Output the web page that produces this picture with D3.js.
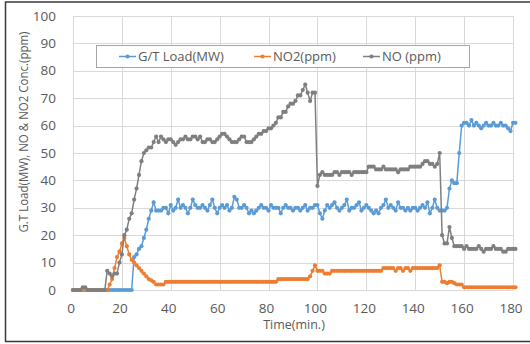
<!DOCTYPE html>
<html>
<head>
<meta charset="utf-8">
<script src="https://cdn.jsdelivr.net/npm/d3@7"></script>
<style>
  body { margin: 0; background: #fff; }
  text { font-family: "Open Sans", sans-serif; fill: #595959; }
</style>
</head>
<body>
<svg id="svg1" width="530" height="344"></svg>
<script>
  // minutes, one reading per minute
  var minutes = [
    0, 1, 2, 3, 4, 5, 6, 7, 8, 9, 10, 11, 12, 13, 14, 15, 16, 17, 18, 19,
    20, 21, 22, 23, 24, 25, 26, 27, 28, 29, 30, 31, 32, 33, 34, 35, 36, 37, 38, 39,
    40, 41, 42, 43, 44, 45, 46, 47, 48, 49, 50, 51, 52, 53, 54, 55, 56, 57, 58, 59,
    60, 61, 62, 63, 64, 65, 66, 67, 68, 69, 70, 71, 72, 73, 74, 75, 76, 77, 78, 79,
    80, 81, 82, 83, 84, 85, 86, 87, 88, 89, 90, 91, 92, 93, 94, 95, 96, 97, 98, 99,
    100, 101, 102, 103, 104, 105, 106, 107, 108, 109, 110, 111, 112, 113, 114, 115, 116, 117, 118, 119,
    120, 121, 122, 123, 124, 125, 126, 127, 128, 129, 130, 131, 132, 133, 134, 135, 136, 137, 138, 139,
    140, 141, 142, 143, 144, 145, 146, 147, 148, 149, 150, 151, 152, 153, 154, 155, 156, 157, 158, 159,
    160, 161, 162, 163, 164, 165, 166, 167, 168, 169, 170, 171, 172, 173, 174, 175, 176, 177, 178, 179,
    180, 181
  ];

  var gtLoad = [
    0, 0, 0, 0, 0, 0, 0, 0, 0, 0,
    0, 0, 0, 0, 0, 0, 0, 0, 0, 0,
    0, 0, 0, 0, 0, 12, 13, 15, 16, 19,
    22, 26, 29, 32, 29, 29, 29, 30, 30, 28,
    31, 29, 30, 33, 30, 31, 30, 28, 30, 33,
    31, 30, 30, 31, 30, 29, 31, 33, 30, 28,
    30, 31, 30, 31, 29, 30, 34, 33, 30, 30,
    31, 30, 28, 29, 28, 29, 30, 31, 30, 30,
    29, 31, 30, 30, 30, 28, 30, 31, 30, 30,
    29, 30, 30, 29, 30, 31, 29, 30, 30, 31,
    31, 28, 26, 29, 31, 30, 31, 32, 30, 29,
    30, 31, 33, 29, 30, 30, 31, 32, 29, 30,
    31, 30, 29, 28, 29, 28, 30, 31, 33, 30,
    31, 30, 29, 32, 30, 30, 29, 30, 29, 30,
    30, 29, 30, 31, 30, 32, 28, 30, 33, 30,
    29, 29, 29, 30, 37, 40, 39, 39, 50, 60,
    61, 61, 60, 62, 60, 61, 60, 59, 60, 61,
    60, 60, 61, 60, 60, 61, 60, 60, 59, 58, 61, 61
  ];

  var no2 = [
    0, 0, 0, 0, 0, 0, 0, 0, 0, 0,
    0, 0, 0, 0, 0, 2, 4, 8, 12, 14,
    17, 19, 16, 13, 11, 10, 9, 8, 7, 6,
    5, 4, 3.5, 3, 2, 2, 2, 2, 3, 3,
    3, 3, 3, 3, 3, 3, 3, 3, 3, 3,
    3, 3, 3, 3, 3, 3, 3, 3, 3, 3,
    3, 3, 3, 3, 3, 3, 3, 3, 3, 3,
    3, 3, 3, 3, 3, 3, 3, 3, 3, 3,
    3, 3, 3, 3, 4, 4, 4, 4, 4, 4,
    4, 4, 4, 4, 4, 4, 4, 5, 7, 9,
    7, 7, 7, 6, 6, 6, 7, 7, 7, 7,
    7, 7, 7, 7, 7, 7, 7, 7, 7, 7,
    7, 7, 7, 7, 7, 7, 7, 8, 8, 8,
    8, 8, 7, 8, 8, 7, 8, 8, 7, 8,
    8, 8, 8, 8, 8, 8, 8, 8, 8, 8,
    9, 3, 3, 2.5, 3, 3, 2.5, 2, 2, 2,
    1, 1, 1, 1, 1, 1, 1, 1, 1, 1,
    1, 1, 1, 1, 1, 1, 1, 1, 1, 1, 1, 1
  ];

  var no = [
    0, 0, 0, 0, 1, 1, 0, 0, 0, 0,
    0, 0, 0, 0, 7, 6, 5, 6, 6, 10,
    13, 20, 22, 26, 28, 33, 37, 42, 47, 50,
    51, 52, 52, 54, 56, 54, 56, 55, 54, 55,
    55, 54, 53, 54, 55, 55, 56, 55, 55, 56,
    56, 55, 56, 54, 54, 55, 55, 54, 54, 55,
    56, 57, 57, 56, 55, 54, 54, 54, 55, 56,
    56, 54, 54, 54, 55, 56, 57, 57, 58, 58,
    59, 59, 60, 61, 63, 63, 65, 65, 67, 68,
    68, 69, 71, 71, 73, 75, 72, 69, 72, 72,
    38, 42, 43, 42, 42, 42, 42, 43, 43, 42,
    43, 43, 43, 43, 42, 43, 43, 43, 43, 43,
    43, 45, 45, 45, 44, 44, 44, 45, 44, 44,
    44, 44, 44, 43, 44, 44, 44, 44, 45, 45,
    45, 45, 45, 46, 47, 47, 46, 46, 45, 46,
    50, 20, 17, 17, 23, 19, 16, 16, 16, 16,
    15, 16, 15, 15, 15, 15, 16, 15, 14, 15,
    15, 15, 16, 15, 15, 15, 14, 14, 15, 15, 15, 15
  ];

  var seriesNames = ["G/T Load(MW)", "NO2(ppm)", "NO (ppm)"];
  var seriesColors = ["#5B9BD5", "#ED7D31", "#7F7F7F"];
  var xTicks = [0, 20, 40, 60, 80, 100, 120, 140, 160, 180];
  var yTicks = [0, 10, 20, 30, 40, 50, 60, 70, 80, 90, 100];

  var svg = d3.select("#svg1");

  var plotLeft = 73, plotRight = 513, plotTop = 16, plotBottom = 290;

  var xScale = d3.scaleLinear().domain([0, 180]).range([plotLeft, plotRight]),
    yScale = d3.scaleLinear().domain([0, 100]).range([plotBottom, plotTop]);

  // outer frame
  svg.append("rect")
    .attr("x", 5.5).attr("y", 2)
    .attr("width", 540).attr("height", 339.5)
    .style("fill", "none")
    .style("stroke", "#3a3a3a")
    .style("stroke-width", 1.5);

  // grid
  svg.append("g")
    .selectAll("line")
    .data(yTicks)
    .enter()
    .append("line")
    .attr("x1", plotLeft).attr("x2", plotRight)
    .attr("y1", function (d) { return Math.round(yScale(d)) + 0.5; })
    .attr("y2", function (d) { return Math.round(yScale(d)) + 0.5; })
    .style("stroke", "#d9d9d9");

  svg.append("g")
    .selectAll("line")
    .data(xTicks)
    .enter()
    .append("line")
    .attr("x1", function (d) { return Math.round(xScale(d)) + 0.5; })
    .attr("x2", function (d) { return Math.round(xScale(d)) + 0.5; })
    .attr("y1", plotTop).attr("y2", plotBottom)
    .style("stroke", "#d9d9d9");

  // tick labels
  svg.append("g")
    .selectAll("text")
    .data(yTicks)
    .enter()
    .append("text")
    .attr("x", 56)
    .attr("y", function (d) { return yScale(d) + 4.5; })
    .attr("text-anchor", "end")
    .style("font-size", "13.5px")
    .text(function (d) { return d; });

  svg.append("g")
    .selectAll("text")
    .data(xTicks)
    .enter()
    .append("text")
    .attr("x", function (d) { return xScale(d) - 2; })
    .attr("y", 313)
    .attr("text-anchor", "middle")
    .style("font-size", "13.5px")
    .text(function (d) { return d; });

  // axis titles
  svg.append("text")
    .attr("x", 294)
    .attr("y", 329)
    .attr("text-anchor", "middle")
    .style("font-size", "12.5px")
    .text("Time(min.)");

  svg.append("text")
    .attr("text-anchor", "middle")
    .attr("transform", "translate(28,132)rotate(-90)")
    .attr("textLength", 201)
    .attr("lengthAdjust", "spacingAndGlyphs")
    .style("font-size", "13px")
    .text("G.T Load(MW), NO & NO2 Conc.(ppm)");

  // series
  var allSeries = [gtLoad, no2, no];

  var line = d3.line()
    .x(function (d, i) { return xScale(minutes[i]); })
    .y(function (d) { return yScale(d); });

  allSeries.forEach(function (values, k) {
    var g = svg.append("g");
    g.append("path")
      .datum(values)
      .attr("d", line)
      .style("fill", "none")
      .style("stroke", seriesColors[k])
      .style("stroke-width", 1.5);
    g.selectAll("circle")
      .data(values)
      .enter()
      .append("circle")
      .attr("cx", function (d, i) { return xScale(minutes[i]); })
      .attr("cy", function (d) { return yScale(d); })
      .attr("r", 2.1)
      .style("fill", seriesColors[k]);
  });

  // legend
  var legend = svg.append("g");
  legend.append("rect")
    .attr("x", 96.5).attr("y", 45.5)
    .attr("width", 373).attr("height", 22)
    .style("fill", "#fff")
    .style("stroke", "#a6a6a6");

  var legendX = [119, 254, 363];
  seriesNames.forEach(function (name, k) {
    legend.append("line")
      .attr("x1", legendX[k]).attr("x2", legendX[k] + 17)
      .attr("y1", 56.5).attr("y2", 56.5)
      .style("stroke", seriesColors[k])
      .style("stroke-width", 1.5);
    legend.append("circle")
      .attr("cx", legendX[k] + 8.5).attr("cy", 56.5)
      .attr("r", 2.1)
      .style("fill", seriesColors[k]);
    legend.append("text")
      .attr("x", legendX[k] + 19)
      .attr("y", 61)
      .style("font-size", "13px")
      .text(name);
  });
</script>
</body>
</html>
